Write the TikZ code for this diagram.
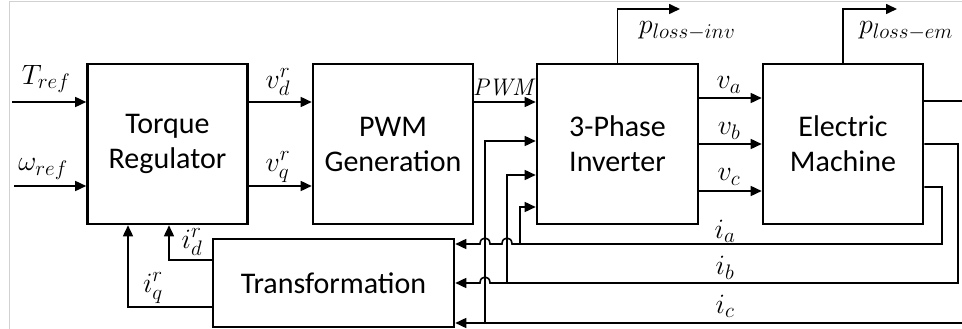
\RequirePackage{fix-cm}
\documentclass[tikz,border=0pt]{standalone}
\usepackage[no-math]{fontspec}
\setmainfont{Carlito}
\DeclareMathSizes{28}{28}{21}{16}
\DeclareMathSizes{24}{24}{18}{14}
\usetikzlibrary{arrows.meta,calc}
\begin{document}
\begin{tikzpicture}[x=1pt,y=-1pt,
  blk/.style={draw,line width=2.6pt,minimum width=160pt,minimum height=160pt,align=center,font=\fontsize{30}{35}\selectfont,inner sep=0pt},
  con/.style={line width=1.6pt},
  arr/.style={con,-{Triangle[length=11pt,width=10pt]}},
  lbl/.style={font=\fontsize{28}{32}\selectfont,inner sep=0pt}]
\useasboundingbox (0,0) rectangle (962,329);
% frame
\draw[line width=1pt,color=black!18] (9,329) -- (9,2) -- (962,2);
% blocks
\node[blk] (trq) at (167.5,144) {Torque\\Regulator};
\node[blk] (pwm) at (393,144) {PWM\\Generation};
\node[blk,minimum width=161pt] (inv) at (617.5,144) {3-Phase\\Inverter};
\node[blk] (em) at (843,144) {Electric\\Machine};
\node[blk,minimum width=241pt,minimum height=88pt] (tr) at (333.5,283) {Transformation};
% free ends
\coordinate (tin) at (12,102);
\coordinate (win) at (14,186);
\coordinate (pli) at (680,9);
\coordinate (ple) at (897,9);
\coordinate (wout) at (962,101);
\coordinate (icin) at (962,323);
\coordinate (ta) at (520,244);
\coordinate (tb) at (507,283);
\coordinate (tc) at (485,323);
% inputs
\draw[arr] (tin) -- (tin -| trq.west);
\draw[arr] (win) -- (win -| trq.west);
\draw[arr] (trq.east |- tin) -- (pwm.west |- tin);
\draw[arr] (trq.east |- win) -- (pwm.west |- win);
\draw[arr] (pwm.east |- tin) -- (inv.west |- tin);
% phase voltages
\draw[arr] (inv.east |- 0,98) -- (em.west |- 0,98);
\draw[arr] (inv.east |- 0,144) -- (em.west |- 0,144);
\draw[arr] (inv.east |- 0,191) -- (em.west |- 0,191);
% losses
\draw[arr] (inv.north) |- (pli);
\draw[arr] (em.north) |- (ple);
% output
\draw[con] (em.east |- wout) -- (wout);
% currents
\draw[arr] (em.east |- 0,187) -- (942,187) -- (942,244) -- (512,244)
  .. controls (512,236) and (502,236) .. (502,244) -- (490,244)
  .. controls (490,236) and (480,236) .. (480,244) -- (tr.east |- 0,244);
\draw[arr] (em.east |- 0,144) -- (958,144) -- (958,283) -- (490,283)
  .. controls (490,275) and (480,275) .. (480,283) -- (tr.east |- 0,283);
\draw[arr] (icin) -- (tr.east |- icin);
% taps to inverter
\draw[arr] (ta) -- (520,207) -- (inv.west |- 0,207);
\draw[arr] (tb) -- (507,175) -- (inv.west |- 0,175);
\draw[arr] (tc) -- (485,141) -- (inv.west |- 0,141);
% feedback
\draw[arr] (tr.west |- 0,260) -| (trq.south -| 169,0);
\draw[arr] (tr.west |- 0,307) -| (trq.south -| 128,0);
% labels
\node[lbl] (lt) at (46,79) {$T_{ref}$};
\node[lbl] (lw) at (43,169) {$\omega_{ref}$};
\node[lbl] (lvd) at (278,82) {$v_d^r$};
\node[lbl] (lvq) at (278,167) {$v_q^r$};
\node[lbl,font=\fontsize{24}{28}\selectfont] (lpwm) at (505,87) {$\mathit{PWM}$};
\node[lbl] (lva) at (729,85) {$v_a$};
\node[lbl] (lvb) at (729,131) {$v_b$};
\node[lbl] (lvc) at (729,177) {$v_c$};
\node[lbl] (lpi) at (687,31) {$p_{loss-inv}$};
\node[lbl] (lpe) at (906,31) {$p_{loss-em}$};
\node[lbl] (lia) at (725,231) {$i_a$};
\node[lbl] (lib) at (725,268) {$i_b$};
\node[lbl] (lic) at (725,306) {$i_c$};
\node[lbl] (lid) at (192,242) {$i_d^r$};
\node[lbl] (liq) at (153,288) {$i_q^r$};
\end{tikzpicture}
\end{document}
